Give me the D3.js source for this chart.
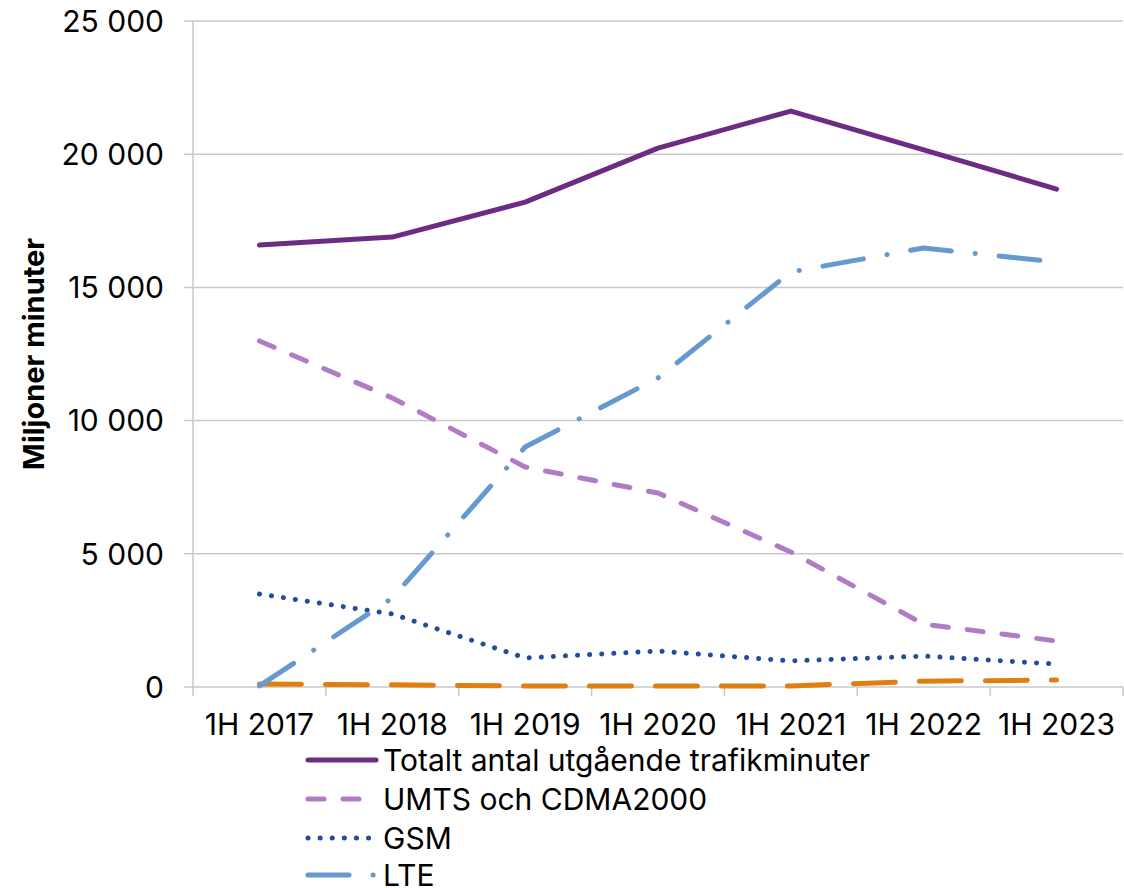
<!DOCTYPE html>
<html><head><meta charset="utf-8">
<script src="https://cdn.jsdelivr.net/npm/d3@7"></script>
<style>
body{margin:0;background:#fff;}
text{font-family:Inter,"Liberation Sans",sans-serif;fill:#000;}
</style></head>
<body><svg id="c" width="1124" height="888"></svg>
<script>
const categories = ["1H 2017","1H 2018","1H 2019","1H 2020","1H 2021","1H 2022","1H 2023"];
const seriesNames = ["Totalt antal utgående trafikminuter","UMTS och CDMA2000","GSM","LTE"];
const total = [16590,16890,18200,20230,21620,20160,18690];
const umts  = [12990,10850,8260,7280,5070,2360,1730];
const gsm   = [3490,2740,1090,1350,980,1160,860];
const lte   = [40,3340,9010,11600,15580,16480,15950];
const other = [110,80,40,40,40,220,260];
const yTicks = [0,5000,10000,15000,20000,25000];
const yLabel = "Miljoner minuter";

const styles = [
  {color:"#6B2C82", dash:null, cap:"round"},
  {color:"#B07CC6", dash:"16,19", cap:"round"},
  {color:"#234C9C", dash:"0.1,12", cap:"round"},
  {color:"#6699D0", dash:"41,24,0.1,24", cap:"round"},
  {color:"#E07F10", dash:"42,24", cap:"round"}
];
const data = [total, umts, gsm, lte, other];

const svg = d3.select("#c");
const L=193, R=1123, T=21, B=687;
const x = d3.scaleBand().domain(categories).range([L,R]);
const y = d3.scaleLinear().domain([0,25000]).range([B,T]);
const fmt = v => d3.format(",")(v).replace(/,/g," ");

svg.append("g").selectAll("line").data(yTicks).join("line")
  .attr("x1",L-9).attr("x2",R).attr("y1",d=>y(d)).attr("y2",d=>y(d))
  .attr("stroke","#c9c9c9").attr("stroke-width",1.5);
svg.append("line").attr("x1",L).attr("x2",L).attr("y1",T).attr("y2",B)
  .attr("stroke","#c9c9c9").attr("stroke-width",1.5);
svg.append("g").selectAll("text").data(yTicks).join("text")
  .attr("x",164).attr("y",d=>y(d)).attr("dy","0.36em").attr("text-anchor","end")
  .attr("font-size",30).text(fmt);
const bounds = categories.map(c=>x(c)).concat([R]);
svg.append("g").selectAll("line").data(bounds).join("line")
  .attr("x1",d=>d).attr("x2",d=>d).attr("y1",B).attr("y2",B+9)
  .attr("stroke","#c9c9c9").attr("stroke-width",1.5);
svg.append("g").selectAll("text").data(categories).join("text")
  .attr("x",d=>x(d)+x.bandwidth()/2).attr("y",735).attr("text-anchor","middle")
  .attr("font-size",30).text(d=>d);
svg.append("text").attr("transform","translate(44,354) rotate(-90)")
  .attr("text-anchor","middle").attr("font-size",29).attr("font-weight","bold").text(yLabel);

const line = d3.line().x((d,i)=>x(categories[i])+x.bandwidth()/2).y(d=>y(d));
const order = [4,2,1,3,0];
order.forEach(k=>{
  svg.append("path").attr("d",line(data[k])).attr("fill","none")
    .attr("stroke",styles[k].color).attr("stroke-width",5)
    .attr("stroke-linecap",styles[k].cap).attr("stroke-linejoin","round")
    .attr("stroke-dasharray",styles[k].dash);
});

const legRows = [760,799,838,875];
seriesNames.forEach((n,k)=>{
  const g = svg.append("g");
  g.append("line").attr("x1",308).attr("x2",376).attr("y1",legRows[k]).attr("y2",legRows[k])
    .attr("stroke",styles[k].color).attr("stroke-width",5)
    .attr("stroke-linecap",styles[k].cap).attr("stroke-dasharray",styles[k].dash);
  g.append("text").attr("x",383).attr("y",legRows[k]).attr("dy","0.36em")
    .attr("font-size",30).text(n);
});
</script></body></html>
